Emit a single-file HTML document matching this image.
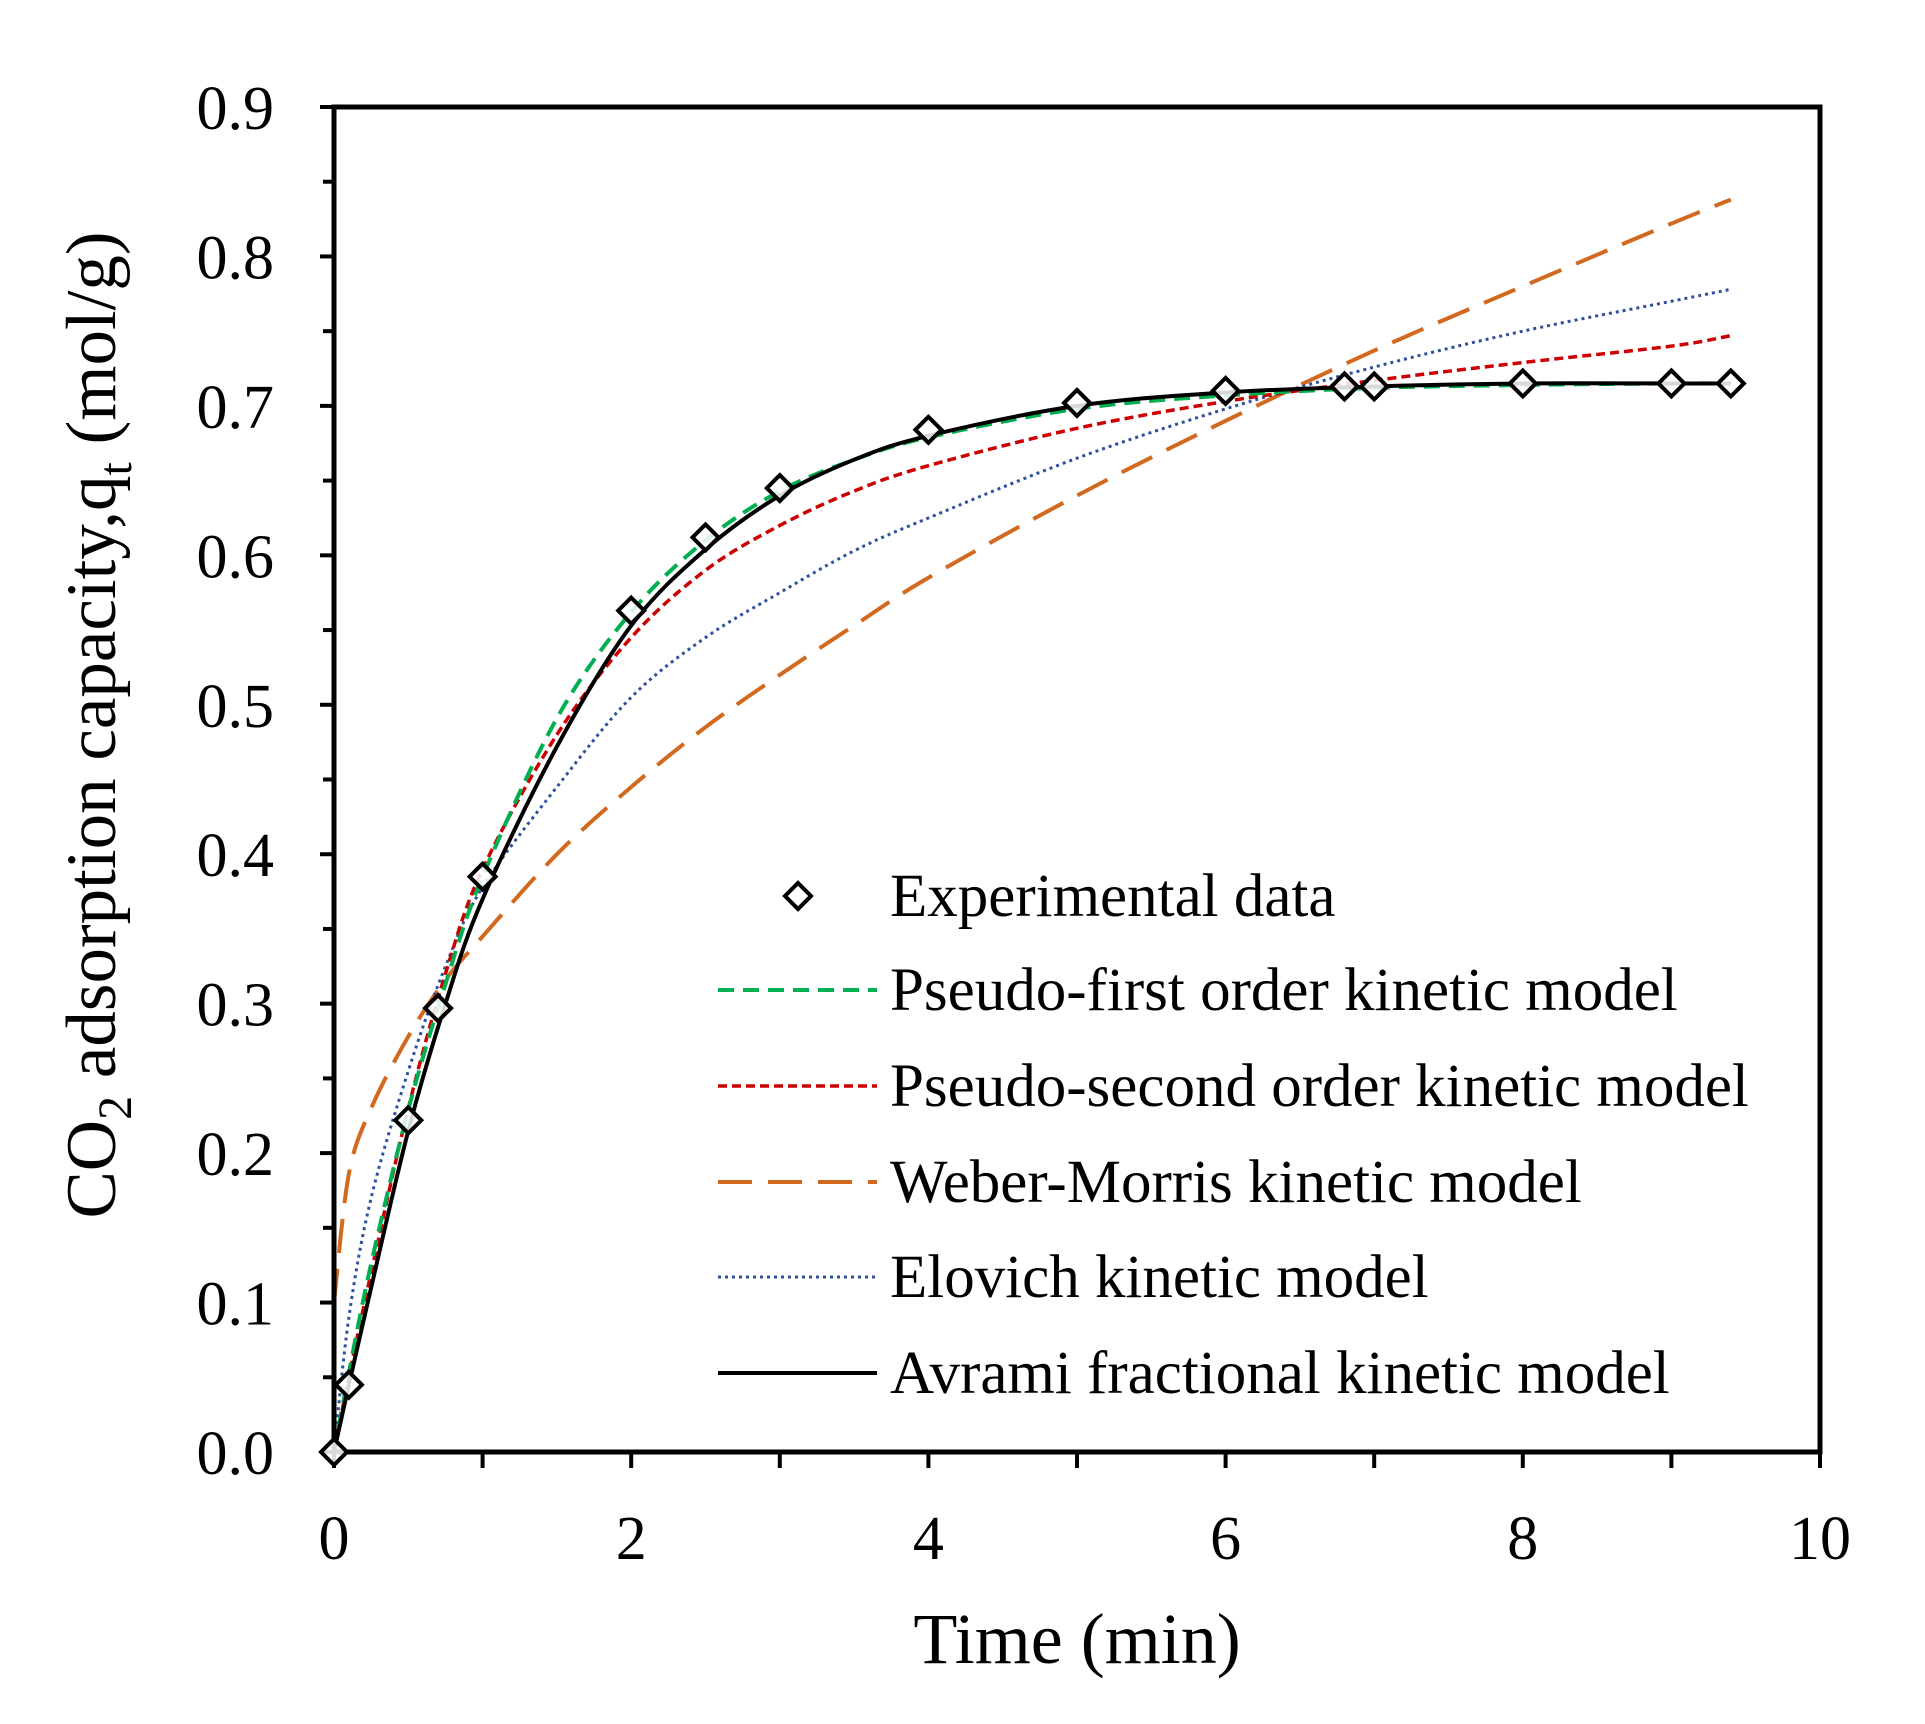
<!DOCTYPE html>
<html><head><meta charset="utf-8"><style>
html,body{margin:0;padding:0;background:#fff}
svg{display:block}
text{font-family:"Liberation Serif",serif;fill:#000}
</style></head><body>
<svg id="chart" width="1925" height="1724" viewBox="0 0 1925 1724">
<g id="plot"></g>
<text x="1077" y="1663" font-size="72" text-anchor="middle">Time (min)</text>
<text transform="translate(115,725) rotate(-90)" font-size="71" text-anchor="middle">CO<tspan font-size="48" dy="16">2</tspan><tspan dy="-16"> adsorption capacity,q</tspan><tspan font-size="48" dy="16">t</tspan><tspan dy="-16"> (mol/g)</tspan></text>
<g id="legend"></g>
</svg>
<script>
const xTicks=[0,2,4,6,8,10];
const yTicks=[0.0,0.1,0.2,0.3,0.4,0.5,0.6,0.7,0.8,0.9];
const expT=[0,0.1,0.5,0.7,1,2,2.5,3,4,5,6,6.8,7,8,9,9.4];
const expQ=[0,0.045,0.222,0.297,0.385,0.563,0.612,0.645,0.684,0.702,0.71,0.713,0.713,0.715,0.715,0.715];
const modelT=[0,0.1,0.25,0.5,0.75,1,1.5,2,2.5,3,3.5,4,5,6,7,8,9,9.4];
const pfoQ=[0,0.053,0.126,0.229,0.313,0.385,0.491,0.562,0.610,0.643,0.664,0.679,0.698,0.707,0.712,0.714,0.715,0.715];
const psoQ=[0,0.05,0.12,0.23,0.32,0.39,0.48,0.545,0.59,0.62,0.643,0.66,0.685,0.703,0.717,0.729,0.740,0.747];
const wmQ=[0.10,0.186,0.23,0.278,0.316,0.345,0.40,0.445,0.485,0.52,0.553,0.585,0.64,0.69,0.737,0.78,0.822,0.838];
const elQ=[0,0.09,0.17,0.255,0.325,0.378,0.445,0.505,0.545,0.575,0.603,0.625,0.665,0.698,0.726,0.75,0.77,0.778];
const avQ=[0,0.045,0.11,0.215,0.30,0.37,0.472,0.553,0.604,0.64,0.664,0.68,0.70,0.709,0.713,0.715,0.715,0.715];

const L=334,R=1820,T=107,B=1452;
const xs=v=>L+(v/10)*(R-L);
const ys=v=>B-(v/0.9)*(B-T);
const NS='http://www.w3.org/2000/svg';
const plot=document.getElementById('plot');
const leg=document.getElementById('legend');
function mk(tag,attrs,parent){const e=document.createElementNS(NS,tag);for(const k in attrs)e.setAttribute(k,attrs[k]);parent.appendChild(e);return e;}

function smooth(tArr,qArr){
  const p=tArr.map((t,i)=>[xs(t),ys(qArr[i])]);
  let d='M'+p[0][0]+','+p[0][1];
  for(let i=0;i<p.length-1;i++){
    const p0=p[Math.max(0,i-1)],p1=p[i],p2=p[i+1],p3=p[Math.min(p.length-1,i+2)];
    const c1=[p1[0]+(p2[0]-p0[0])/6,p1[1]+(p2[1]-p0[1])/6];
    const c2=[p2[0]-(p3[0]-p1[0])/6,p2[1]-(p3[1]-p1[1])/6];
    d+=' C'+c1[0]+','+c1[1]+' '+c2[0]+','+c2[1]+' '+p2[0]+','+p2[1];
  }
  return d;
}

for(let i=0;i<=18;i++){
  const v=i*0.05;
  const t=mk('line',{x1:L-(i%2===0?14:11),x2:L,y1:ys(v),y2:ys(v),stroke:'#000','stroke-width':4},plot);
  
  
}
yTicks.forEach(v=>{
  const t=mk('text',{x:L-60,y:ys(v)+22,'font-size':62,'text-anchor':'end'},plot);
  t.textContent=v.toFixed(1);
  
  
});
for(let i=0;i<=10;i++){
  const t=mk('line',{x1:xs(i),x2:xs(i),y1:B,y2:B+16,stroke:'#000','stroke-width':4},plot);
  
  
}
xTicks.forEach(v=>{
  const t=mk('text',{x:xs(v),y:1559,'font-size':62,'text-anchor':'middle'},plot);
  t.textContent=v;
  
  
});

const series=[
  {q:wmQ,c:'#d2691e',w:4,da:'34 16',name:'weber-morris-line',label:'Weber-Morris kinetic model'},
  {q:elQ,c:'#2f4f9f',w:3,da:'3 4',name:'elovich-line',label:'Elovich kinetic model'},
  {q:psoQ,c:'#cc0000',w:3.5,da:'9 5',name:'pseudo-second-order-line',label:'Pseudo-second order kinetic model'},
  {q:pfoQ,c:'#00b050',w:4,da:'16 9',name:'pseudo-first-order-line',label:'Pseudo-first order kinetic model'},
  {q:avQ,c:'#000',w:4,da:'none',name:'avrami-line',label:'Avrami fractional kinetic model'}
];
series.forEach(s=>{
  const p=mk('path',{d:smooth(modelT,s.q),fill:'none',stroke:s.c,'stroke-width':s.w,'stroke-dasharray':s.da},plot);
  
  
});
const fr=mk('rect',{x:L,y:T,width:R-L,height:B-T,fill:'none',stroke:'#000','stroke-width':5},plot);



function diamond(cx,cy,parent){
  const r=13;
  return mk('path',{d:`M${cx},${cy-r} L${cx+r},${cy} L${cx},${cy+r} L${cx-r},${cy} Z`,fill:'#fff','fill-opacity':0.85,stroke:'#000','stroke-width':4},parent);
}
expT.forEach((t,i)=>{
  const m=diamond(xs(t),ys(expQ[i]),plot);
  
  
});

const legY=[896,990,1086,1182,1277,1373];
const lm=diamond(798,legY[0],leg);


const lt0=mk('text',{x:890,y:legY[0]+20,'font-size':61},leg);
lt0.textContent='Experimental data';


const order=[3,2,0,1,4];
order.forEach((si,k)=>{
  const s=series[si];const y=legY[k+1];
  const l=mk('line',{x1:718,x2:877,y1:y,y2:y,stroke:s.c,'stroke-width':s.w,'stroke-dasharray':s.da},leg);
  
  
  const tx=mk('text',{x:890,y:y+20,'font-size':61},leg);
  tx.textContent=s.label;
  
  
});
</script>
</body></html>
